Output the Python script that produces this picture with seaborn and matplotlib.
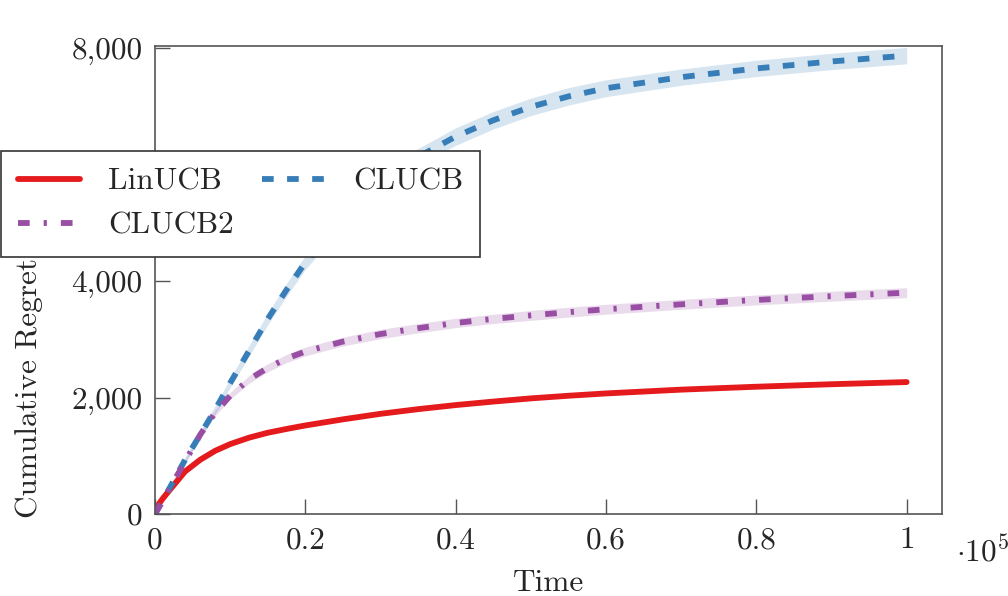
import matplotlib
matplotlib.use("Agg")
import matplotlib.pyplot as plt
from matplotlib.ticker import FuncFormatter
import seaborn as sns
import pandas as pd
import numpy as np

# data
time = [0, 1000, 2000, 4000, 6000, 8000, 10000, 12500, 15000, 17500, 20000,
        25000, 30000, 35000, 40000, 45000, 50000, 55000, 60000, 70000,
        80000, 90000, 100000]

linucb = [80, 260, 420, 730, 930, 1085, 1200, 1310, 1395, 1460, 1520,
          1625, 1720, 1800, 1870, 1930, 1985, 2030, 2070, 2135, 2185, 2228, 2265]
clucb = [0, 230, 460, 930, 1360, 1790, 2250, 2800, 3350, 3850, 4320,
         5080, 5680, 6130, 6480, 6760, 6990, 7170, 7310, 7500, 7650, 7770, 7870]
clucb2 = [0, 220, 450, 900, 1360, 1740, 2030, 2310, 2510, 2670, 2790,
          2960, 3090, 3190, 3280, 3350, 3410, 3465, 3515, 3600, 3675, 3740, 3800]

# half width of the shaded bands
linucb_err = [0, 10, 15, 20, 20, 25, 25, 25, 25, 25, 25,
              25, 25, 25, 25, 25, 25, 25, 25, 25, 25, 25, 25]
clucb_err = [0, 15, 30, 50, 60, 70, 80, 90, 100, 110, 120,
             130, 140, 145, 150, 150, 150, 150, 145, 140, 140, 140, 140]
clucb2_err = [0, 10, 20, 30, 40, 50, 60, 65, 70, 70, 75,
              75, 80, 80, 80, 80, 85, 85, 85, 85, 85, 85, 85]

series = ["LinUCB", "CLUCB", "CLUCB2"]
values = {"LinUCB": linucb, "CLUCB": clucb, "CLUCB2": clucb2}
errors = {"LinUCB": linucb_err, "CLUCB": clucb_err, "CLUCB2": clucb2_err}
colors = {"LinUCB": "#e41a1c", "CLUCB": "#377eb8", "CLUCB2": "#984ea3"}
styles = {"LinUCB": "-", "CLUCB": (0, (2.0, 2.3)),
          "CLUCB2": (0, (2.0, 2.4, 0.55, 2.4))}

df = pd.DataFrame({"Time": time * 3,
                   "Regret": linucb + clucb + clucb2,
                   "alg": [s for s in series for _ in time]})

sns.set_theme(style="white")
plt.rcParams["font.family"] = ["cmr10", "DejaVu Serif"]
plt.rcParams["mathtext.fontset"] = "cm"
plt.rcParams["axes.formatter.use_mathtext"] = True
plt.rcParams["axes.unicode_minus"] = False

fs = 22.5

fig = plt.figure(figsize=(10.08, 5.96), dpi=100)
ax = fig.add_axes([0.1538, 0.1376, 0.7807, 0.7852])

handles = {}
for name in series:
    y = np.array(values[name])
    e = np.array(errors[name])
    ax.fill_between(time, y - e, y + e, color=colors[name],
                    alpha=0.2, linewidth=0)
for name in series:
    sub = df[df["alg"] == name]
    sns.lineplot(data=sub, x="Time", y="Regret", ax=ax, color=colors[name],
                 linestyle=styles[name], linewidth=4.2, label=name,
                 legend=False)
    handles[name] = ax.lines[-1]

ax.set_xlim(0, 104700)
ax.set_ylim(0, 8035)
ax.set_xticks([0, 20000, 40000, 60000, 80000, 100000])
ax.set_yticks([0, 2000, 4000, 6000, 8000])
ax.xaxis.set_major_formatter(FuncFormatter(lambda v, p: f"{v / 1e5:g}"))
ax.yaxis.set_major_formatter(FuncFormatter(lambda v, p: f"{v:,.0f}"))
ax.tick_params(axis="both", direction="in", length=11, width=1,
               color="#555555", labelsize=fs, pad=9,
               bottom=True, left=True, top=False, right=False)
for sp in ax.spines.values():
    sp.set_color("#555555")
    sp.set_linewidth(1.2)

ax.set_xlabel("Time", fontsize=fs)
ax.set_ylabel("Cumulative Regret", fontsize=fs)
ax.xaxis.set_label_coords(0.5, -0.118)
ax.yaxis.set_label_coords(-0.142, 0.27)
ax.text(1.018, -0.079, r"$\cdot 10^{5}$", transform=ax.transAxes,
        fontsize=fs, ha="left", va="center")

leg = fig.legend([handles["LinUCB"], handles["CLUCB2"], handles["CLUCB"]],
                 ["LinUCB", "CLUCB2", "CLUCB"],
                 loc="upper left", bbox_to_anchor=(0.0005, 0.747),
                 bbox_transform=fig.transFigure, ncol=2, fontsize=fs,
                 frameon=True, fancybox=False, framealpha=1,
                 edgecolor="#333333", borderaxespad=0, borderpad=0.55,
                 handlelength=2.0, handletextpad=0.9, columnspacing=0.9,
                 labelspacing=0.5)
leg.get_frame().set_linewidth(1.2)

# the 6,000 label sits behind the legend in the reference
fig.canvas.draw()
ax.get_yticklabels()[3].set_visible(False)

fig.savefig("out.png", dpi=100)
